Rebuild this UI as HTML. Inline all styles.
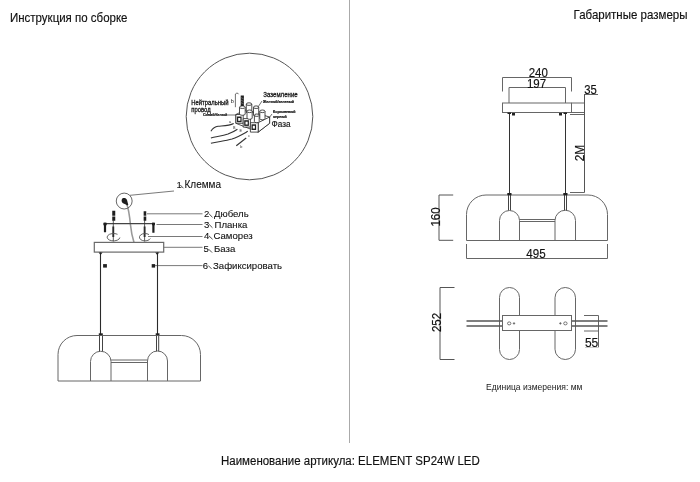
<!DOCTYPE html>
<html><head><meta charset="utf-8">
<style>
html,body{margin:0;padding:0;background:#fff;}
body{width:700px;height:482px;overflow:hidden;position:relative;}
svg{position:absolute;left:0;top:0;will-change:transform;}
text{font-family:"Liberation Sans",sans-serif;}
</style></head><body>
<svg width="700" height="482" viewBox="0 0 700 482" fill="#111" stroke="none">
<!-- divider -->
<line x1="349.5" y1="0" x2="349.5" y2="443" stroke="#aaa" stroke-width="1"/>
<!-- titles -->
<text stroke="#111" stroke-width="0.15" transform="translate(10 21.5) scale(1 1.08)" font-size="11.5">Инструкция по сборке</text>
<text stroke="#111" stroke-width="0.15" transform="translate(573.6 18.9) scale(1 1.06)" font-size="11.5">Габаритные размеры</text>
<text stroke="#111" stroke-width="0.15" transform="translate(221 464.8) scale(1 1.08)" font-size="11.5">Наименование артикула: ELEMENT SP24W LED</text>

<!-- ================= RIGHT: dimensions drawing ================= -->
<g fill="none" stroke="#666" stroke-width="1">
  <!-- 240 -->
  <path d="M502.5 91.5V77.5H571.5V91.5"/>
  <!-- 197 -->
  <path d="M509 103V87.5H565.5V103"/>
  <!-- canopy -->
  <rect x="502.5" y="103" width="69" height="9.5"/>
  <path d="M571.5 103H584.5M571.5 112.5H584.5M570 114.5H584.5M570 192.5H584.5"/>
  <path d="M584.5 94V192.5" stroke="#555"/>
  <path d="M584.5 94.5H598"/>
  <!-- shade -->
  <path d="M466.5 240.5V214.5A19.5 19.5 0 0 1 486 195H588A19.5 19.5 0 0 1 607.5 214.5V240.5Z"/>
  <!-- arches -->
  <path d="M499.5 240.5V220.5A10 10 0 0 1 519.5 220.5V240.5"/>
  <path d="M555 240.5V220.5A10.25 10.25 0 0 1 575.5 220.5V240.5"/>
  <path d="M519.5 219.5H555M519.5 221.5H555"/>
  <!-- tubes -->
  <path d="M508.5 195V210.3M510.5 195V210.3M564.5 195V210.3M566.5 195V210.3" stroke="#444"/>
  <!-- 495 -->
  <path d="M466.5 244V258.5H607.5V244"/>
  <!-- 160 -->
  <path d="M453.2 195H439V240.3H453.2" stroke="#555"/>
  <!-- 252 -->
  <path d="M454.5 287.5H440V359.5H454.5" stroke="#555"/>
  <!-- pills (top view) -->
  <rect x="499.5" y="287.5" width="20" height="72" rx="10" ry="10"/>
  <rect x="555" y="287.5" width="20.5" height="72" rx="10.25" ry="10.25"/>
  <!-- 55 -->
  <path d="M584 315.5H598.5V331H584M598.5 331V347"/>
  <path d="M585 347.5H599" stroke="#ccc"/>
</g>
<!-- wires -->
<g stroke="#333" stroke-width="1" fill="none">
  <path d="M509.5 113V194.5M565.5 113V194.5"/>
</g>
<g fill="#222">
  <rect x="512" y="113" width="3" height="2.5"/>
  <rect x="559" y="113" width="3" height="2.5"/>
  <rect x="507.5" y="112.5" width="3.5" height="1.5"/>
  <rect x="563.5" y="112.5" width="3.5" height="1.5"/>
  <rect x="507.3" y="193" width="4.2" height="2.2"/>
  <rect x="563.3" y="193" width="4.2" height="2.2"/>
</g>
<!-- top view canopy + rails -->
<g stroke="#555" stroke-width="1.4" fill="none">
  <path d="M466.5 321H502.5M466.5 326H502.5M571.5 321H607.5M571.5 326H607.5"/>
</g>
<rect x="502.5" y="315.5" width="69" height="15" fill="#fff" stroke="#666" stroke-width="1"/>
<g stroke="#555" stroke-width="0.8" fill="none">
  <ellipse cx="509.2" cy="323.4" rx="1.7" ry="1.5"/>
  <path d="M512.8 323.4H515.2M514 322.2V324.6"/>
  <ellipse cx="565.4" cy="323.4" rx="1.7" ry="1.5"/>
  <path d="M559.2 323.4H561.6M560.4 322.2V324.6"/>
</g>
<!-- dimension texts -->
<text stroke="#111" stroke-width="0.15" transform="translate(528.7 77) scale(1 1.1)" font-size="11.5">240</text>
<text stroke="#111" stroke-width="0.15" transform="translate(526.9 87.5) scale(1 1.1)" font-size="11.5">197</text>
<text stroke="#111" stroke-width="0.15" transform="translate(584.2 93.6) scale(1 1.1)" font-size="11.3">35</text>
<text stroke="#111" stroke-width="0.15" transform="translate(526.3 258.3) scale(1 1.1)" font-size="11.6">495</text>
<text stroke="#111" stroke-width="0.15" x="584.9" y="346.8" font-size="12">55</text>
<text stroke="#111" stroke-width="0.15" transform="translate(584.2 161.3) rotate(-90) scale(1 1.05)" font-size="12">2M</text>
<text stroke="#111" stroke-width="0.15" transform="translate(439.6 226.6) rotate(-90) scale(1 1.1)" font-size="11.5">160</text>
<text stroke="#111" stroke-width="0.15" transform="translate(440.6 332.1) rotate(-90) scale(1 1.1)" font-size="11.5">252</text>
<text x="486" y="389.9" font-size="8.55" stroke="none" fill="#222">Единица измерения: мм</text>

<!-- ================= LEFT: assembly drawing ================= -->
<!-- magnifier circle -->
<circle cx="249.5" cy="116.5" r="63.3" fill="none" stroke="#555" stroke-width="1"/>

<!-- klemma -->
<path d="M126.5 203.5C128.5 208 129.5 215 130.5 225C131.2 232 132.5 238 134 242.4" stroke="#999" stroke-width="1.6" fill="none"/>
<circle cx="124.2" cy="201.05" r="7.95" fill="none" stroke="#555" stroke-width="0.9"/>
<path d="M121.8 199.5C122.5 197.5 125.5 197.8 126.6 199.3C127.6 200.8 127.6 203 128.3 204.8L127.3 205.5C126 204.3 124.5 204 123 203.2C121.8 202.4 121.3 201 121.8 199.5Z" fill="#1e1e1e"/>
<!-- leaders -->
<g stroke="#6a6a6a" stroke-width="0.9" fill="none">
  <path d="M130 195.3L174 191"/>
  <path d="M147 213.8H202.5"/>
  <path d="M156.5 224.5H202.5"/>
  <path d="M148 236.5H202.5"/>
  <path d="M163.7 247.3H202.5"/>
  <path d="M155 265.6H202.5"/>
</g>
<!-- bar -->
<path d="M104.2 223.6H154.9" stroke="#444" stroke-width="1.4"/>
<g stroke="#1e1e1e" fill="none">
  <path d="M113.75 210.8V215.8M113.75 216.6V220.7" stroke-width="3"/>
  <path d="M144.95 211.2V215.8M144.95 216.6V220.7" stroke-width="2.6"/>
  <path d="M105 222.8V232.3M153.4 222.8V232.8" stroke-width="2.2"/>
  <path d="M103.4 224H106.7M152 224H154.9" stroke-width="2.4"/>
  <path d="M113.3 226.5V237M144.6 226.5V237" stroke-width="1.8"/>
</g>
<g stroke="#333" stroke-width="0.8" fill="none">
  <path d="M113.3 220V241.5M144.6 220V241.5"/>
</g>
<g stroke="#555" stroke-width="0.9" fill="none">
  <path d="M117.5 234.3A6.4 3.7 0 1 0 119.9 237.5"/>
  <path d="M149 234.6A5.6 3.7 0 1 0 150.3 238.5"/>
</g>
<!-- base -->
<rect x="94.3" y="242.4" width="69.4" height="9.7" fill="none" stroke="#6a6a6a" stroke-width="1.2"/>
<!-- wires -->
<path d="M100.5 252.5V335M157.5 252.5V335" stroke="#2a2a2a" stroke-width="1.1" fill="none"/>
<g fill="#222">
  <path d="M98.6 252.5H102.6L100.6 255Z"/>
  <path d="M155.2 252.5H159.2L157.2 255Z"/>
  <rect x="103.1" y="264.1" width="3.8" height="3.5"/>
  <rect x="151.7" y="264.1" width="3.4" height="3.5"/>
  <rect x="98.8" y="333.3" width="4" height="2.4"/>
  <rect x="155.7" y="333.3" width="3.8" height="2.4"/>
</g>
<!-- shade -->
<g fill="none" stroke="#666" stroke-width="1">
  <path d="M58 381V354.5A19 19 0 0 1 77 335.5H181.5A19 19 0 0 1 200.5 354.5V381Z"/>
  <path d="M90.5 381V361.5A10.25 10.25 0 0 1 111 361.5V381"/>
  <path d="M147.5 381V361A10 10 0 0 1 167.5 361V381"/>
  <path d="M111 360H147.5M111 362.5H147.5"/>
  <path d="M99.5 335.5V351.2M102.5 335.5V351.2M156.5 335.5V351.2M158.7 335.5V351.2" stroke="#444"/>
</g>
<!-- labels -->
<g font-size="9.6" stroke="#111" stroke-width="0.1">
  <text x="176.5" y="188.2">1</text><text x="184.5" y="188.2" font-size="10">Клемма</text>
  <text x="204" y="217.2">2</text><text x="214" y="217.2">Дюбель</text>
  <text x="204" y="227.7">3</text><text x="214.5" y="227.7">Планка</text>
  <text x="204" y="239.1">4</text><text x="213.5" y="239.1">Саморез</text>
  <text x="203.5" y="252.4">5</text><text x="214" y="252.4">База</text>
  <text x="202.8" y="268.7">6</text><text x="213" y="268.7">Зафиксировать</text>
</g>
<g stroke="#444" stroke-width="0.95" stroke-linecap="round">
  <path d="M180.6 185.3L183.2 188"/>
  <path d="M209.4 214.2L212.2 217"/>
  <path d="M209.4 224.7L212.2 227.5"/>
  <path d="M209.3 236.2L212.3 239"/>
  <path d="M209 249.5L211.8 252.3"/>
  <path d="M208.5 265.8L211.3 268.6"/>
</g>

<!-- magnifier contents (terminal block) -->
<g font-size="59" stroke="#1a1a1a" stroke-width="2.5">
  <text transform="translate(191.3 104.8) scale(0.1 0.11)">Нейтральный</text>
  <text transform="translate(191.3 111.7) scale(0.1 0.11)">провод</text>
  <text transform="translate(263.3 96.8) scale(0.1 0.11)" font-size="61" stroke-width="2.5">Заземление</text>
</g>
<text transform="translate(271.5 126.7) scale(0.1 0.11)" font-size="82" stroke="#1a1a1a" stroke-width="1.5">Фаза</text>
<g font-size="3.6" font-weight="bold" stroke="#111" stroke-width="0.2">
  <text x="203" y="116">Синий/белый</text>
  <text x="263" y="102.5">Желтый/зеленый</text>
  <text x="273" y="113">Коричневый</text>
  <text x="273" y="117.8">черный</text>
</g>
<g fill="none" stroke="#333" stroke-width="0.7">
  <path d="M227 115H236"/>
  <path d="M235.4 94V107.2M235.4 94C236 92.8 238.5 93 238.5 94.2"/>
  <path d="M262 101L256 110"/>
  <path d="M272 114L266 122"/>
</g>
<text x="230.8" y="102.8" font-size="5.5">b</text>
<!-- terminal block -->
<g stroke="#222" stroke-width="0.8" fill="#fff" stroke-linejoin="round">
  <!-- top surface + right face -->
  <path d="M235.9 114.5L245 110L269.6 117V123.3L258.2 132.1L235.9 123.3Z"/>
  <path d="M258.2 122.7L269.6 117V123.3L258.2 132.1Z"/>
  <rect x="235.9" y="114.5" width="7.3" height="8.8"/>
  <rect x="243.2" y="118.6" width="7.2" height="8.5"/>
  <rect x="250.4" y="122.7" width="7.8" height="9.4"/>
</g>
<g fill="#222">
  <rect x="236.9" y="116.5" width="4.7" height="5.7"/>
  <rect x="244.2" y="120.2" width="4.7" height="5.7"/>
  <rect x="251.5" y="124.3" width="4.6" height="5.7"/>
</g>
<g fill="#fff">
  <rect x="238.2" y="118" width="2.2" height="2.8"/>
  <rect x="245.5" y="121.7" width="2.2" height="2.8"/>
  <rect x="252.8" y="125.8" width="2.1" height="2.8"/>
</g>
<g stroke="#222" stroke-width="0.8" fill="#fff">
  <path d="M246.3 104.1V112A2.75 1.3 0 0 0 251.8 112V104.1"/>
  <ellipse cx="249" cy="104.1" rx="2.75" ry="1.3"/>
  <path d="M259.8 111.3V118.5A2.6 1.3 0 0 0 265 118.5V111.3"/>
  <ellipse cx="262.4" cy="111.3" rx="2.6" ry="1.3"/>
  <path d="M253.5 107.2V115A2.6 1.3 0 0 0 258.7 115V107.2"/>
  <ellipse cx="256.1" cy="107.2" rx="2.6" ry="1.3"/>
  <path d="M239.5 107.2V114A2.85 1.3 0 0 0 245.2 114V107.2"/>
  <ellipse cx="242.35" cy="107.2" rx="2.85" ry="1.3"/>
  <path d="M247 111.3V118A2.6 1.3 0 0 0 252.2 118V111.3"/>
  <ellipse cx="249.6" cy="111.3" rx="2.6" ry="1.3"/>
  <path d="M254.4 115.2V121.5A2.4 1.2 0 0 0 259.2 121.5V115.2"/>
  <ellipse cx="256.8" cy="115.2" rx="2.4" ry="1.2"/>
</g>
<path d="M242.3 95.5V106" stroke="#222" stroke-width="3.2"/>
<path d="M240.8 97.5L243.8 99M240.8 100L243.8 101.5M240.8 102.5L243.8 104" stroke="#888" stroke-width="0.6"/>
<!-- wires -->
<g fill="none" stroke="#333" stroke-width="1.1">
  <path d="M210.9 131.3C213 128 215 126.6 218 126.3C223 125.8 229 126 233.7 123.5"/>
  <path d="M210.9 138C216 136.5 222 136.2 228 134C233 132 235 131 237.4 129.2"/>
  <path d="M210.9 143.2C218 141.5 225 141 232 139C238 137 243 134 247.8 131.3"/>
  <path d="M236.3 145.8L246.2 138"/>
</g>
<g font-size="3.8" fill="#333" stroke="none">
  <text x="229" y="123">a</text>
  <text x="233" y="128.7">B</text>
  <text x="239.5" y="131.8">E</text>
  <text x="248.3" y="136.5">c</text>
  <text x="240.3" y="148">b</text>
</g>
</svg>
</body></html>
